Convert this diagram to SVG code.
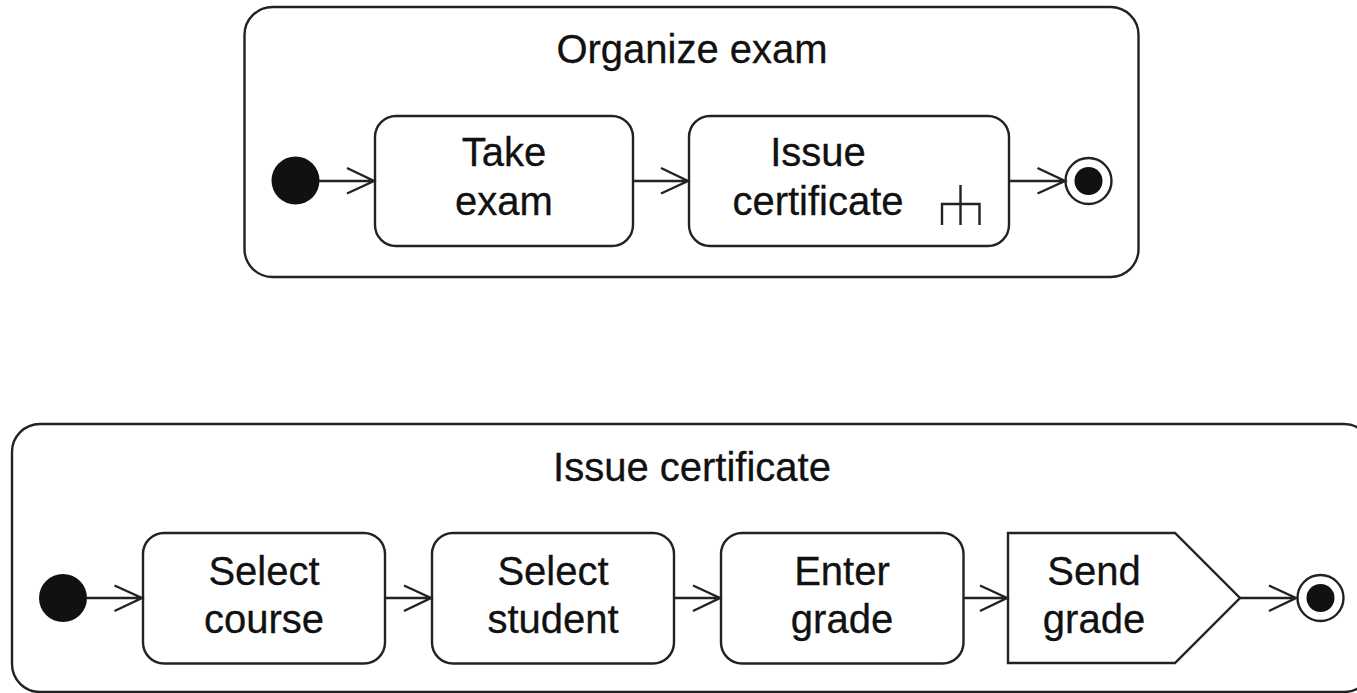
<svg xmlns="http://www.w3.org/2000/svg" width="1357" height="693" viewBox="0 0 1357 693">
<style>
.b{fill:#fff;stroke:#222;stroke-width:2.4}
.t{font-family:"Liberation Sans",Arial,sans-serif;font-size:40px;fill:#111;stroke:#111;stroke-width:.3;text-anchor:middle}
.c{fill:none;stroke:#222;stroke-width:2.4}
.d{fill:#111}
</style>
<rect width="1357" height="693" fill="#fff"/>
<g id="organize-exam"><rect class="b" x="244.500" y="7" width="894" height="270" rx="28"/><text class="t" x="692" y="63">Organize exam</text></g>
<g id="issue-certificate-frame"><rect class="b" x="12" y="424" width="1360" height="268" rx="28"/><text class="t" x="692" y="481">Issue certificate</text></g>
<g id="start1"><circle class="d" cx="295.500" cy="180.500" r="24"/></g>
<g id="take-exam"><rect class="b" x="375" y="116" width="258" height="130" rx="21"/><text class="t" x="504" y="166">Take</text><text class="t" x="504" y="215">exam</text></g>
<g id="issue-certificate"><rect class="b" x="689" y="116" width="320" height="130" rx="21"/><text class="t" x="818" y="166">Issue</text><text class="t" x="818" y="215">certificate</text><path class="c" d="M960.500 185V225M942 225V204H979.500V225"/></g>
<g id="end1"><circle class="b" cx="1088.500" cy="181" r="23"/><circle class="d" cx="1088.500" cy="181" r="14"/></g>
<g id="start2"><circle class="d" cx="63" cy="598" r="24"/></g>
<g id="select-course"><rect class="b" x="143" y="533" width="242" height="130.500" rx="21"/><text class="t" x="264" y="585">Select</text><text class="t" x="264" y="633">course</text></g>
<g id="select-student"><rect class="b" x="432" y="533" width="242" height="130.500" rx="21"/><text class="t" x="553" y="585">Select</text><text class="t" x="553" y="633">student</text></g>
<g id="enter-grade"><rect class="b" x="721" y="533" width="242.500" height="130.500" rx="21"/><text class="t" x="842" y="585">Enter</text><text class="t" x="842" y="633">grade</text></g>
<g id="send-grade"><path class="b" d="M1008 533H1175L1240 598L1175 663H1008Z"/><text class="t" x="1094" y="585">Send</text><text class="t" x="1094" y="633">grade</text></g>
<g id="end2"><circle class="b" cx="1320.500" cy="598" r="23"/><circle class="d" cx="1320.500" cy="598" r="14"/></g>
<g id="connectors">
<path class="c" d="M319 181H374M347 168L374 181L347 193.500"/>
<path class="c" d="M633 181H688M661 168L688 181L661 193.500"/>
<path class="c" d="M1009 181H1065M1037.500 168L1065 181L1037.500 193.500"/>
<path class="c" d="M87 598H142M114.500 585.500L142 598L114.500 611"/>
<path class="c" d="M385 598H431M404 585.500L431 598L404 611"/>
<path class="c" d="M674 598H720M693 585.500L720 598L693 611"/>
<path class="c" d="M963.500 598H1007M980 585.500L1007 598L980 611"/>
<path class="c" d="M1240 598H1296M1269 585.500L1296 598L1269 611"/>
</g>
</svg>
